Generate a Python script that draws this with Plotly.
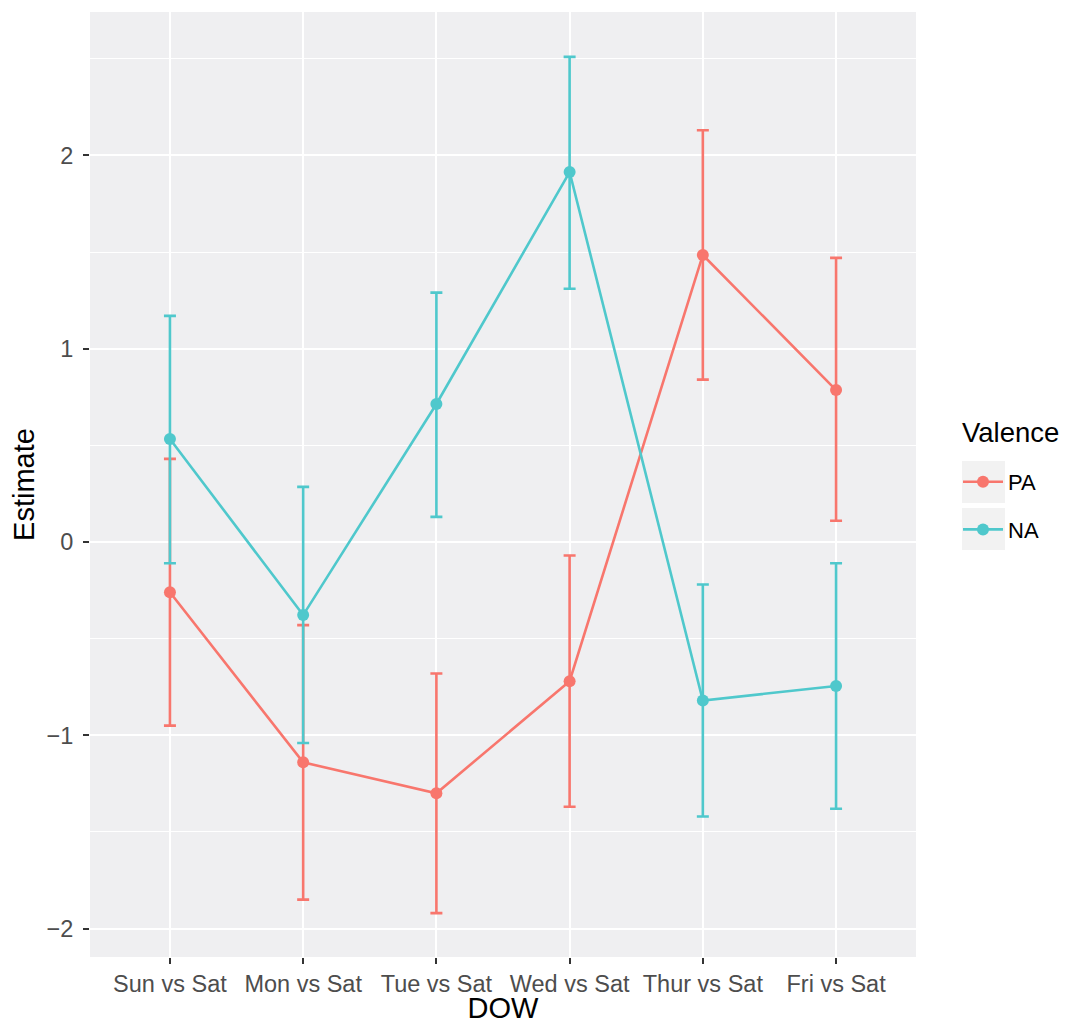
import plotly.graph_objects as go

categories = ["Sun vs Sat", "Mon vs Sat", "Tue vs Sat", "Wed vs Sat", "Thur vs Sat", "Fri vs Sat"]
pa_est = [-0.26, -1.14, -1.30, -0.72, 1.485, 0.786]
pa_hi = [0.43, -0.43, -0.68, -0.07, 2.13, 1.47]
pa_lo = [-0.95, -1.85, -1.92, -1.37, 0.84, 0.11]
na_est = [0.533, -0.378, 0.714, 1.914, -0.82, -0.745]
na_hi = [1.17, 0.285, 1.29, 2.51, -0.22, -0.11]
na_lo = [-0.11, -1.04, 0.13, 1.31, -1.42, -1.38]

PA_COL = "#F8766D"
NA_COL = "#4FC8CC"

L, R, T, B = 82, 159, 4, 67
W, H = 1067, 1016
PW, PH = W - L - R, H - T - B

def px_to_paper_x(x):
    return (x - 8 - L) / PW

def px_to_paper_y(y):
    return (T + PH - (y - 8)) / PH

fig = go.Figure()
for name, est, hi, lo, col in [("PA", pa_est, pa_hi, pa_lo, PA_COL), ("NA", na_est, na_hi, na_lo, NA_COL)]:
    fig.add_trace(go.Scatter(
        x=categories, y=est, name=name, mode="lines+markers",
        legendgroup=name,
        line=dict(color=col, width=2.6),
        marker=dict(color=col, size=12),
        error_y=dict(type="data", symmetric=False,
                     array=[h - e for h, e in zip(hi, est)],
                     arrayminus=[e - l for e, l in zip(est, lo)],
                     color=col, thickness=2.6, width=6),
    ))

# legend key backgrounds (ggplot style)
for y0, y1 in [(461, 503), (508, 550)]:
    fig.add_shape(type="rect", xref="paper", yref="paper",
                  x0=px_to_paper_x(962), x1=px_to_paper_x(1005),
                  y0=px_to_paper_y(y1), y1=px_to_paper_y(y0),
                  fillcolor="#F2F2F2", line=dict(width=0), layer="below")

fig.add_annotation(text="Valence", xref="paper", yref="paper",
                   x=px_to_paper_x(960), xanchor="left",
                   y=px_to_paper_y(432), yanchor="middle",
                   showarrow=False, font=dict(size=27.5, color="black"))

fig.update_layout(
    width=W, height=H,
    margin=dict(l=L, r=R, t=T, b=B, autoexpand=False),
    paper_bgcolor="white", plot_bgcolor="#EFEFF1",
    font=dict(family="Liberation Sans, Arial, sans-serif", color="#4D4D4D"),
    legend=dict(x=px_to_paper_x(958), xanchor="left", y=px_to_paper_y(461), yanchor="top",
                font=dict(size=22, color="black"), bgcolor="rgba(0,0,0,0)",
                itemwidth=40, tracegroupgap=16, traceorder="grouped"),
    showlegend=True,
)
fig.update_xaxes(
    type="category", range=[-0.6, 5.6],
    showgrid=True, gridcolor="white", gridwidth=2.4,
    ticks="outside", ticklen=6, tickcolor="#333333", tickwidth=2,
    tickfont=dict(size=23.5, color="#4D4D4D"),
    title=dict(text="DOW", font=dict(size=29, color="black"), standoff=5),
    zeroline=False, showline=False,
)
fig.update_yaxes(
    range=[-2.147, 2.742], dtick=1, tick0=0,
    showgrid=True, gridcolor="white", gridwidth=2.4,
    minor=dict(dtick=0.5, tick0=0, showgrid=True, gridcolor="white", gridwidth=1.2, ticks=""),
    ticks="outside", ticklen=6, tickcolor="#333333", tickwidth=2,
    ticklabelstandoff=5,
    tickfont=dict(size=23.5, color="#4D4D4D"),
    tickformat="d",
    title=dict(text="Estimate", font=dict(size=29, color="black"), standoff=10),
    zeroline=False, showline=False,
)
fig.write_html("out.html")
